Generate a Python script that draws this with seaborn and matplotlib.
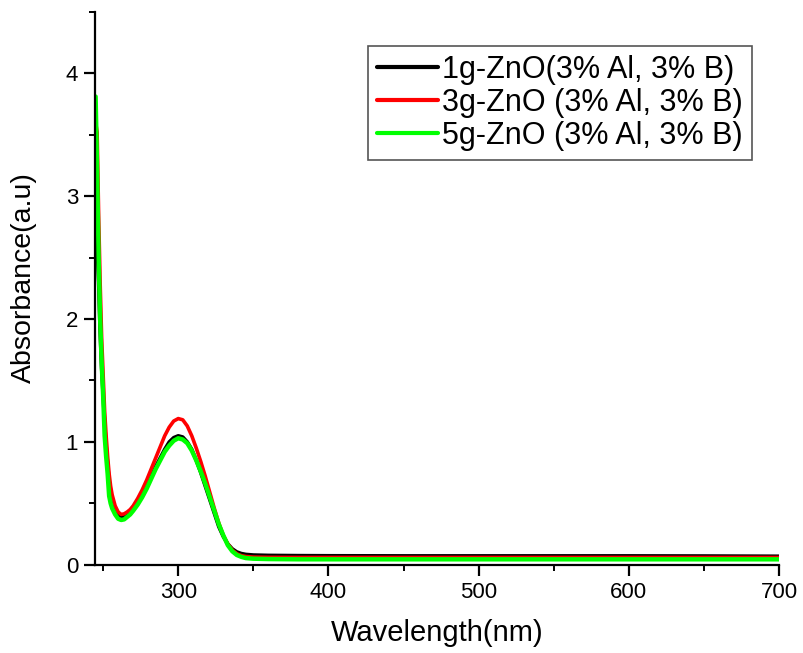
import numpy as np
import pandas as pd
import matplotlib
matplotlib.use("Agg")
import matplotlib.pyplot as plt
import seaborn as sns
from matplotlib.ticker import MultipleLocator

wavelength = [245, 246, 247, 248, 249, 250, 251, 252, 253, 254, 255, 256, 258, 260, 262, 264,
              266, 268, 270, 273, 276, 279, 282, 285, 288, 291, 294, 297, 300, 303, 306, 309,
              312, 315, 318, 321, 324, 327, 330, 333, 336, 339, 342, 345, 350, 360, 380, 400,
              450, 500, 550, 600, 650, 700]

abs_1g = [2.73, 2.60, 2.30, 1.90, 1.60, 1.38, 1.15, 0.97, 0.82, 0.68, 0.60, 0.53, 0.45, 0.405, 0.385, 0.39,
          0.41, 0.43, 0.46, 0.51, 0.57, 0.64, 0.72, 0.80, 0.87, 0.94, 1.00, 1.035, 1.05, 1.04, 1.00, 0.94,
          0.85, 0.75, 0.64, 0.53, 0.42, 0.31, 0.23, 0.17, 0.13, 0.105, 0.092, 0.085, 0.080, 0.077, 0.075, 0.074,
          0.073, 0.073, 0.073, 0.073, 0.072, 0.070]

abs_3g = [3.60, 3.52, 2.85, 2.30, 1.85, 1.55, 1.25, 1.05, 0.88, 0.74, 0.64, 0.57, 0.48, 0.43, 0.41, 0.415,
          0.43, 0.45, 0.48, 0.54, 0.61, 0.69, 0.78, 0.87, 0.96, 1.05, 1.12, 1.17, 1.19, 1.18, 1.13, 1.05,
          0.95, 0.84, 0.72, 0.59, 0.46, 0.34, 0.24, 0.17, 0.12, 0.09, 0.075, 0.068, 0.063, 0.061, 0.060, 0.060,
          0.060, 0.060, 0.060, 0.060, 0.060, 0.060]

abs_5g = [3.81, 3.20, 2.50, 2.00, 1.65, 1.38, 1.05, 0.88, 0.74, 0.56, 0.50, 0.46, 0.41, 0.375, 0.365, 0.37,
          0.39, 0.41, 0.44, 0.49, 0.55, 0.62, 0.70, 0.78, 0.85, 0.92, 0.97, 1.01, 1.03, 1.02, 0.99, 0.93,
          0.85, 0.76, 0.66, 0.55, 0.44, 0.33, 0.24, 0.16, 0.11, 0.08, 0.065, 0.055, 0.050, 0.047, 0.045, 0.045,
          0.045, 0.045, 0.045, 0.045, 0.045, 0.045]

labels = ["1g-ZnO(3% Al, 3% B)", "3g-ZnO (3% Al, 3% B)", "5g-ZnO (3% Al, 3% B)"]
colors = ["#000000", "#ff0000", "#00ff00"]
widths = [2.6, 2.6, 3.2]

sns.set_style("ticks")
plt.rcParams['font.family'] = ['Liberation Sans', 'DejaVu Sans']
for k in ['text.color', 'axes.labelcolor', 'xtick.color', 'ytick.color', 'axes.edgecolor']:
    plt.rcParams[k] = 'black'

fig = plt.figure(figsize=(8.04, 6.53), dpi=100)
ax = fig.add_axes([0.118, 0.135, 0.851, 0.847])

for vals, lab, col, lw in zip([abs_1g, abs_3g, abs_5g], labels, colors, widths):
    d = pd.DataFrame({"Wavelength": wavelength, "Absorbance": vals})
    sns.lineplot(data=d, x="Wavelength", y="Absorbance", color=col, linewidth=lw,
                 label=lab, ax=ax, estimator=None)

ax.set_xlim(244.5, 700)
ax.set_ylim(0, 4.5)
ax.set_xticks([300, 400, 500, 600, 700])
ax.xaxis.set_minor_locator(MultipleLocator(50))
ax.yaxis.set_major_locator(MultipleLocator(1))
ax.yaxis.set_minor_locator(MultipleLocator(0.5))
ax.tick_params(axis='both', which='major', direction='out', length=8, width=1.6,
               labelsize=16, pad=4)
ax.tick_params(axis='both', which='minor', direction='out', length=4.5, width=1.4)
for s in ['top', 'right']:
    ax.spines[s].set_visible(False)
for s in ['left', 'bottom']:
    ax.spines[s].set_linewidth(1.6)

ax.set_xlabel("Wavelength(nm)", fontsize=21, labelpad=12)
ax.set_ylabel("Absorbance(a.u)", fontsize=20.5)
ax.yaxis.set_label_coords(-0.085, 0.52)

leg = ax.legend(loc='upper right', bbox_to_anchor=(0.9605, 0.9385), fontsize=22,
                frameon=True, fancybox=False, handlelength=2.0, handletextpad=0.12,
                borderpad=0.3, labelspacing=0.1, borderaxespad=0)
leg.get_frame().set_edgecolor('#555555')
leg.get_frame().set_linewidth(1.2)
leg.get_frame().set_alpha(1)
for line in leg.get_lines():
    line.set_linewidth(3)

fig.savefig("out.png", dpi=100)
